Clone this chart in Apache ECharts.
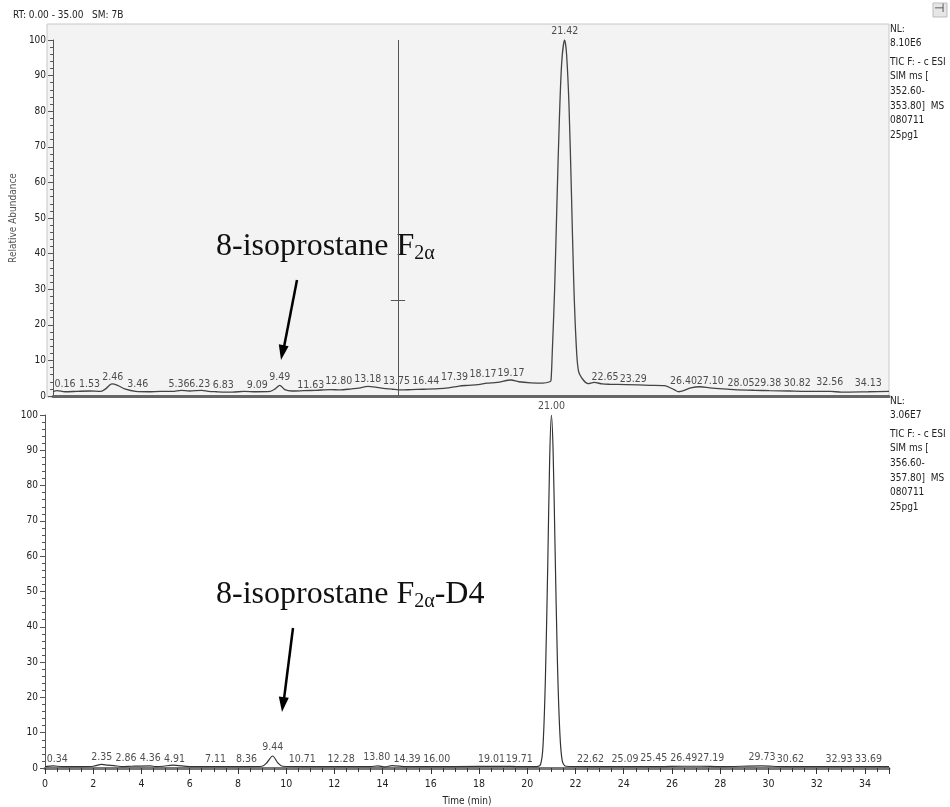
<!DOCTYPE html>
<html>
<head>
<meta charset="utf-8">
<script src="https://cdn.jsdelivr.net/npm/echarts@6/dist/echarts.min.js"></script>
<style>
  html, body { margin: 0; padding: 0; background: #fff; }
  #chart { width: 950px; height: 807px; }
</style>
</head>
<body>
<div id="chart"></div>
<script>
// trace 1 : m/z 352.60-353.80 (8-isoprostane F2a)
var topRT = [0, 0.16, 0.5, 1.0, 1.53, 2.0, 2.2, 2.46, 2.7, 3.0, 3.46, 4.0, 4.5, 5.0, 5.36, 5.7, 6.23, 6.5, 6.83, 7.5,
  8.0, 8.5, 9.09, 9.3, 9.49, 9.7, 10.0, 10.5, 11.0, 11.63, 12.0, 12.5, 12.8, 13.18, 13.5, 13.75, 14.2, 14.6, 15.0, 15.5,
  16.0, 16.44, 17.0, 17.39, 17.8, 18.17, 18.6, 19.17, 19.5, 20.0, 20.5, 20.8, 20.85, 20.9, 21.0, 21.1, 21.2, 21.3, 21.42, 21.5, 21.6,
  21.7, 21.8, 21.9, 22.0, 22.2, 22.4, 22.65, 23.0, 23.29, 24.0, 25.0, 25.6, 26.0, 26.2, 26.4, 26.7, 27.1, 27.5, 28.05, 28.5,
  29.38, 30.0, 30.82, 31.5, 32.56, 33.0, 34.13, 35.0];
var topAbund = [1.2, 1.5, 1.2, 1.3, 1.4, 1.3, 2.0, 3.4, 3.0, 2.0, 1.3, 1.2, 1.3, 1.3, 1.6, 1.4, 1.6, 1.3, 1.2, 1.1,
  1.3, 1.2, 1.3, 2.0, 3.0, 1.8, 1.4, 1.5, 1.6, 1.8, 1.7, 2.0, 2.2, 2.7, 2.5, 2.2, 1.9, 1.7, 1.8, 1.9,
  2.0, 2.2, 2.8, 3.0, 3.2, 3.6, 3.8, 4.5, 4.0, 3.7, 3.6, 4.0, 4.5, 12, 30, 55, 78, 94, 100, 96, 82,
  58, 32, 15, 7, 4.5, 3.5, 3.8, 3.4, 3.3, 3.2, 3.0, 2.9, 1.8, 1.2, 1.5, 2.3, 2.6, 2.3, 2.0, 1.8,
  1.6, 1.5, 1.4, 1.3, 1.3, 1.1, 1.2, 1.3];
// labelled peaks: retention time, level of the label foot
var topPeakRT = [0.16, 1.53, 2.46, 3.46, 5.36, 6.23, 6.83, 9.09, 9.49, 11.63, 12.80, 13.18, 13.75, 16.44, 17.39, 18.17, 19.17,
  21.42, 22.65, 23.29, 26.40, 27.10, 28.05, 29.38, 30.82, 32.56, 34.13];
var topPeakLevel = [1.0, 1.0, 2.9, 1.0, 1.0, 1.0, 0.7, 0.7, 2.9, 0.7, 1.8, 2.4, 1.8, 1.8, 2.9, 3.8, 4.1,
  100, 2.9, 2.4, 1.8, 1.8, 1.3, 1.3, 1.3, 1.5, 1.3];

// trace 2 : m/z 356.60-357.80 (8-isoprostane F2a-D4)
var botRT = [0, 0.34, 0.7, 1.5, 2.0, 2.35, 2.6, 2.86, 3.2, 3.6, 4.36, 4.6, 4.91, 5.3, 6.0, 7.11, 8.0, 8.36, 9.0, 9.2,
  9.44, 9.65, 9.85, 10.71, 12.28, 13.5, 13.8, 14.1, 14.39, 15.0, 16.0, 17.0, 19.01, 19.71, 20.4, 20.55, 20.65, 20.75, 20.85, 20.93,
  21.0, 21.07, 21.15, 21.25, 21.35, 21.45, 21.6, 22.62, 23.5, 25.09, 25.45, 26.49, 27.19, 28.0, 29.73, 30.62, 32.93, 33.69, 35.0];
var botAbund = [0.4, 0.6, 0.4, 0.4, 0.5, 1.0, 0.8, 0.7, 0.4, 0.5, 0.6, 0.4, 0.5, 0.8, 0.4, 0.4, 0.4, 0.4, 0.5, 1.5,
  3.4, 1.5, 0.5, 0.4, 0.4, 0.4, 0.6, 0.3, 0.7, 0.4, 0.4, 0.4, 0.5, 0.4, 0.4, 1, 6, 25, 58, 88,
  100, 90, 63, 30, 10, 2, 0.5, 0.4, 0.4, 0.4, 0.4, 0.5, 0.5, 0.4, 0.6, 0.4, 0.4, 0.4, 0.4];
var botPeakRT = [0.34, 2.35, 2.86, 4.36, 4.91, 7.11, 8.36, 9.44, 10.71, 12.28, 13.80, 14.39, 16.00, 19.01, 19.71,
  21.00, 22.62, 25.09, 25.45, 26.49, 27.19, 29.73, 30.62, 32.93, 33.69];
var botPeakLevel = [0, 0.7, 0.4, 0.4, 0, 0, 0, 3.5, 0, 0.1, 0.7, 0.1, 0, 0.1, 0.1,
  100, 0.1, 0, 0.4, 0.4, 0.4, 0.7, 0, 0.1, 0.1];

// sideways shift (px) the data system gave the labels so they don't collide
var topLabelDx = [8, 0, 1, 2, -2, -2, 7, -13, 0, -20, -20, 0, 15, -20, -14, -4, 0,
  0, 11, 24, 0, 10, 18, 13, 8, -1, 0];
var botLabelDx = [4, 0, 12, 0, 11, -1, 0, 0, -1, 0, -1, 15, 6, -12, -1,
  0, 0, -25, -5, 0, 10, 0, 7, 0, 11];

var cursorRT = 14.44;
var cursorAbund = 27;

var yTicks = [0, 100, 10];   // min, max, interval
var xTicks = [0, 35, 2];

var infoTop = ['NL:', '8.10E6', 'TIC F: - c ESI', 'SIM ms [', '352.60-', '353.80]  MS', '080711', '25pg1'];
var infoBot = ['NL:', '3.06E7', 'TIC F: - c ESI', 'SIM ms [', '356.60-', '357.80]  MS', '080711', '25pg1'];

var FONT = "'DejaVu Sans Condensed', 'Liberation Sans Narrow', 'Liberation Sans', Arial, sans-serif";
var SERIF = "'Liberation Serif', 'Times New Roman', serif";

function pairs(xs, ys) {
  return xs.map(function (x, i) { return [x, ys[i]]; });
}

function yAxisOpt(idx, name) {
  return {
    gridIndex: idx, type: 'value', min: yTicks[0], max: yTicks[1], interval: yTicks[2],
    name: name, nameLocation: 'middle', nameGap: 28,
    nameTextStyle: { fontFamily: FONT, fontSize: 10, color: '#555' },
    axisLine: { show: true, lineStyle: { color: '#555', width: 1 } },
    axisTick: { show: true, length: 5, lineStyle: { color: '#555' } },
    minorTick: { show: true, splitNumber: 5, length: 3, lineStyle: { color: '#555' } },
    splitLine: { show: false },
    axisLabel: { fontFamily: FONT, fontSize: 10, color: '#222', margin: 7 }
  };
}

function infoGraphic(lines, top) {
  return lines.map(function (t, i) {
    return {
      type: 'text', left: 890, top: top + i * 14.6 + (i >= 2 ? 4 : 0),
      style: { text: t, fontFamily: FONT, fontSize: 10, fill: '#222' }
    };
  });
}

function peakLabels(xs, ys, dxs, gi) {
  return {
    type: 'scatter', xAxisIndex: gi, yAxisIndex: gi, symbolSize: 0, silent: true, z: 5,
    data: xs.map(function (x, i) {
      return { value: [x, ys[i]], label: { offset: [dxs[i], 0] } };
    }),
    label: {
      show: true, position: 'top', distance: 3,
      formatter: function (p) { return p.value[0].toFixed(2); },
      fontFamily: FONT, fontSize: 10.5, color: '#222'
    }
  };
}

var chart = echarts.init(document.getElementById('chart'));

chart.setOption({
  animation: false,
  backgroundColor: '#fff',
  grid: [
    { left: 45, right: 61, top: 40, height: 356 },
    { left: 45, right: 61, top: 415, height: 354 }
  ],
  xAxis: [
    {
      gridIndex: 0, type: 'value', min: xTicks[0], max: xTicks[1], interval: xTicks[2],
      axisLine: { show: true, onZero: false, lineStyle: { color: '#666', width: 3 } },
      axisTick: { show: false }, axisLabel: { show: false }, splitLine: { show: false }
    },
    {
      gridIndex: 1, type: 'value', min: xTicks[0], max: xTicks[1], interval: xTicks[2],
      name: 'Time (min)', nameLocation: 'middle', nameGap: 28,
      nameTextStyle: { fontFamily: FONT, fontSize: 10, color: '#222' },
      axisLine: { show: true, onZero: false, lineStyle: { color: '#777', width: 3 } },
      axisTick: { show: true, length: 6, lineStyle: { color: '#333' } },
      minorTick: { show: true, splitNumber: 4, length: 4, lineStyle: { color: '#333' } },
      splitLine: { show: false },
      axisLabel: { fontFamily: FONT, fontSize: 10.5, color: '#222', margin: 11, showMaxLabel: false }
    }
  ],
  yAxis: [yAxisOpt(0, 'Relative Abundance'), yAxisOpt(1, '')],
  graphic: [
    { type: 'rect', shape: { x: 47, y: 24, width: 842, height: 373 },
      style: { fill: '#f3f3f3', stroke: '#c8c8c8', lineWidth: 1 }, z: -10 },
    { type: 'text', left: 13, top: 10,
      style: { text: 'RT: 0.00 - 35.00   SM: 7B', fontFamily: FONT, fontSize: 10, fill: '#222' } },
    { type: 'rect', shape: { x: 933, y: 3, width: 14, height: 14 }, style: { fill: '#e6e6e6', stroke: '#bbb' } },
    { type: 'text', left: 934, top: 3, style: { text: '⊣', fontSize: 12, fill: '#333' } },
    { type: 'text', left: 216, top: 231,
      style: {
        text: '{a|8-isoprostane F}{s|2α}',
        rich: {
          a: { fontFamily: SERIF, fontSize: 32, fill: '#111' },
          s: { fontFamily: SERIF, fontSize: 20, fill: '#111', padding: [14, 0, 0, 0] }
        }
      } },
    { type: 'text', left: 216, top: 579,
      style: {
        text: '{a|8-isoprostane F}{s|2α}{a|-D4}',
        rich: {
          a: { fontFamily: SERIF, fontSize: 32, fill: '#111' },
          s: { fontFamily: SERIF, fontSize: 20, fill: '#111', padding: [14, 0, 0, 0] }
        }
      } },
    { type: 'line', shape: { x1: 297, y1: 280, x2: 284, y2: 347 }, style: { stroke: '#000', lineWidth: 2.5 } },
    { type: 'polygon', shape: { points: [[281, 360], [288.6, 346.3], [278.8, 344.3]] }, style: { fill: '#000' } },
    { type: 'line', shape: { x1: 293, y1: 628, x2: 284, y2: 699 }, style: { stroke: '#000', lineWidth: 2.5 } },
    { type: 'polygon', shape: { points: [[282, 712], [288.8, 697.8], [278.8, 696.5]] }, style: { fill: '#000' } }
  ].concat(infoGraphic(infoTop, 24)).concat(infoGraphic(infoBot, 396)),
  series: [
    {
      type: 'line', xAxisIndex: 0, yAxisIndex: 0, data: pairs(topRT, topAbund),
      showSymbol: false, smooth: 0.3, lineStyle: { color: '#444', width: 1.3 }, z: 3,
      markLine: {
        silent: true, symbol: 'none', label: { show: false },
        lineStyle: { color: '#555', width: 1, type: 'solid' },
        data: [
          { xAxis: cursorRT },
          [{ coord: [cursorRT - 0.3, cursorAbund] }, { coord: [cursorRT + 0.3, cursorAbund] }]
        ]
      }
    },
    {
      type: 'line', xAxisIndex: 1, yAxisIndex: 1, data: pairs(botRT, botAbund),
      showSymbol: false, smooth: 0.3, lineStyle: { color: '#333', width: 1.2 }, z: 3
    },
    peakLabels(topPeakRT, topPeakLevel, topLabelDx, 0),
    peakLabels(botPeakRT, botPeakLevel, botLabelDx, 1)
  ]
});
</script>
</body>
</html>
